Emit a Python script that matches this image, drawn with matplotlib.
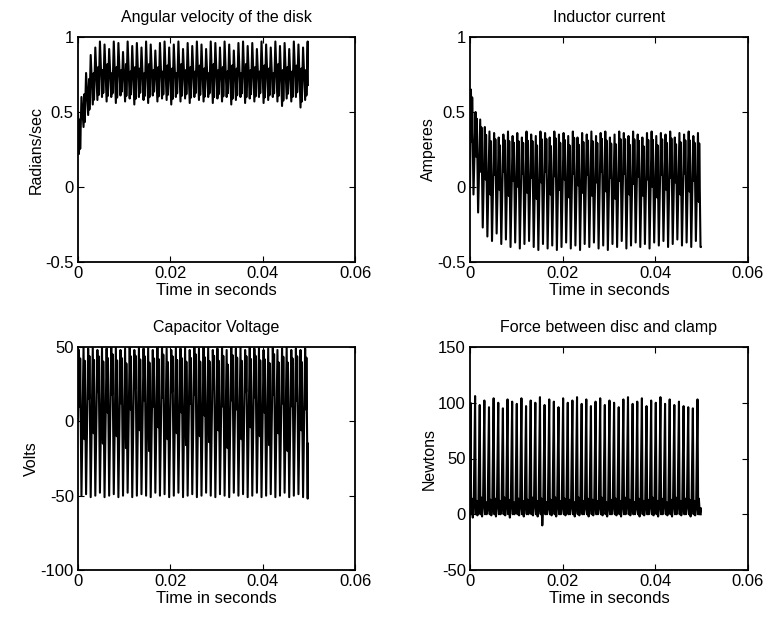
import numpy as np
import matplotlib
matplotlib.use("Agg")
import matplotlib.pyplot as plt

plt.rcParams['font.family'] = ['Liberation Sans', 'DejaVu Sans']

# cycle start times (s), one per oscillation cycle
cycle_t = [0.000, 0.001, 0.002, 0.003, 0.004, 0.005, 0.006, 0.007, 0.008, 0.009,
           0.010, 0.011, 0.012, 0.013, 0.014, 0.015, 0.016, 0.017, 0.018, 0.019,
           0.020, 0.021, 0.022, 0.023, 0.024, 0.025, 0.026, 0.027, 0.028, 0.029,
           0.030, 0.031, 0.032, 0.033, 0.034, 0.035, 0.036, 0.037, 0.038, 0.039,
           0.040, 0.041, 0.042, 0.043, 0.044, 0.045, 0.046, 0.047, 0.048, 0.049]
t_end = 0.0498

# Angular velocity of the disk (rad/s)
omega_start, omega_end = 0.50, 0.68
omega_trough = [0.22, 0.40, 0.48, 0.55, 0.58, 0.60, 0.57, 0.60, 0.56, 0.61,
                0.57, 0.59, 0.55, 0.60, 0.58, 0.56, 0.61, 0.57, 0.59, 0.58,
                0.55, 0.60, 0.57, 0.59, 0.56, 0.60, 0.58, 0.57, 0.60, 0.56,
                0.59, 0.57, 0.60, 0.55, 0.58, 0.60, 0.56, 0.59, 0.57, 0.60,
                0.56, 0.58, 0.60, 0.57, 0.54, 0.59, 0.57, 0.60, 0.53, 0.58]
omega_peak = [0.60, 0.76, 0.88, 0.93, 0.97, 0.95, 0.92, 0.97, 0.96, 0.90,
              0.97, 0.94, 0.96, 0.93, 0.97, 0.95, 0.91, 0.96, 0.97, 0.93,
              0.95, 0.97, 0.92, 0.96, 0.94, 0.97, 0.95, 0.92, 0.97, 0.96,
              0.93, 0.97, 0.95, 0.91, 0.96, 0.97, 0.94, 0.96, 0.92, 0.97,
              0.95, 0.93, 0.97, 0.94, 0.96, 0.92, 0.97, 0.95, 0.93, 0.97]
omega_mid = [0.45, 0.62, 0.72, 0.76, 0.80, 0.78, 0.82, 0.76, 0.80, 0.78,
             0.82, 0.77, 0.80, 0.79, 0.76, 0.82, 0.78, 0.80, 0.77, 0.81,
             0.79, 0.76, 0.82, 0.78, 0.80, 0.77, 0.81, 0.79, 0.76, 0.82,
             0.78, 0.80, 0.77, 0.81, 0.79, 0.76, 0.82, 0.78, 0.80, 0.77,
             0.81, 0.79, 0.76, 0.82, 0.78, 0.80, 0.77, 0.81, 0.79, 0.78]

# Inductor current (A)
cur_start, cur_end = 0.0, -0.40
cur_peak = [0.65, 0.50, 0.45, 0.40, 0.37, 0.36, 0.33, 0.35, 0.37, 0.34,
            0.36, 0.33, 0.37, 0.35, 0.34, 0.37, 0.36, 0.33, 0.37, 0.35,
            0.36, 0.34, 0.37, 0.33, 0.36, 0.35, 0.37, 0.34, 0.36, 0.37,
            0.33, 0.35, 0.37, 0.36, 0.34, 0.37, 0.35, 0.33, 0.36, 0.37,
            0.34, 0.36, 0.35, 0.37, 0.33, 0.36, 0.35, 0.37, 0.34, 0.36]
cur_trough = [-0.05, -0.17, -0.27, -0.33, -0.36, -0.31, -0.38, -0.35, -0.40, -0.37,
              -0.41, -0.38, -0.36, -0.40, -0.42, -0.38, -0.41, -0.39, -0.42, -0.40,
              -0.37, -0.41, -0.39, -0.42, -0.38, -0.40, -0.37, -0.41, -0.39, -0.42,
              -0.38, -0.40, -0.36, -0.41, -0.39, -0.37, -0.40, -0.38, -0.41, -0.37,
              -0.39, -0.36, -0.40, -0.38, -0.35, -0.39, -0.37, -0.40, -0.36, -0.40]
cur_mid = [0.30, 0.20, 0.10, 0.05, -0.05, 0.08, -0.02, 0.10, -0.06, 0.04,
           0.00, 0.09, -0.04, 0.06, -0.08, 0.03, 0.10, -0.05, 0.07, -0.02,
           0.05, -0.07, 0.09, 0.01, -0.04, 0.08, -0.06, 0.03, 0.10, -0.03,
           0.06, -0.08, 0.04, 0.09, -0.05, 0.02, 0.07, -0.06, 0.05, 0.00,
           -0.07, 0.08, -0.02, 0.06, 0.03, -0.05, 0.09, -0.03, 0.04, -0.10]

# Capacitor voltage (V)
volt_start, volt_end = 0.0, -15.0
volt_peak = [48, 50, 49, 50, 48, 50, 49, 50, 50, 48,
             49, 50, 48, 50, 49, 50, 48, 50, 50, 49,
             48, 50, 49, 50, 48, 50, 49, 50, 50, 48,
             49, 50, 48, 50, 49, 50, 48, 50, 49, 50,
             48, 49, 50, 48, 49, 50, 48, 49, 48, 49]
volt_trough = [-50, -49, -51, -50, -48, -51, -50, -49, -51, -50,
               -48, -51, -50, -49, -50, -51, -48, -50, -49, -51,
               -50, -48, -51, -50, -49, -51, -50, -48, -50, -51,
               -49, -50, -51, -48, -50, -49, -51, -50, -48, -51,
               -50, -49, -51, -50, -48, -51, -50, -49, -51, -52]
volt_mid = [10, -12, 15, -8, 20, -15, 6, 18, -10, 12,
            -18, 8, 22, -6, 14, -20, 10, -4, 16, -12,
            20, -8, 6, -16, 12, 18, -10, 4, -14, 22,
            -6, 10, -18, 14, 8, -12, 20, -4, 16, -10,
            6, -16, 18, -8, 12, -20, 10, 14, -6, 8]

# Force between disc and clamp (N)
force_peak = [100, 106, 98, 102, 96, 104, 100, 95, 103, 101,
              99, 104, 97, 102, 100, 105, 98, 103, 101, 96,
              104, 100, 102, 105, 99, 103, 97, 101, 104, 98,
              102, 100, 96, 103, 105, 99, 101, 104, 97, 102,
              100, 105, 99, 103, 98, 101, 97, 96, 95, 103]
force_bump = [14, 12, 15, 11, 13, 14, 12, 15, 13, 11,
              14, 12, 13, 15, 12, 14, 11, 13, 15, 12,
              14, 13, 11, 15, 12, 14, 13, 12, 15, 11,
              13, 14, 12, 15, 13, 11, 14, 12, 13, 15,
              12, 14, 11, 13, 15, 12, 14, 13, 12, 14]
force_dip = [-3, -1, -2, 0, -1, -2, 0, -1, -3, 0,
             -1, -2, 0, -1, -2, -10, 0, -1, -2, 0,
             -1, 0, -2, -1, 0, -2, -1, 0, -1, -2,
             0, -1, -2, 0, -1, 0, -2, -1, 0, -1,
             -2, 0, -1, -2, 0, -1, 0, -2, -1, 0]

T = 0.001


def wave(start, first, mid, second, end):
    ts, vs = [0.0], [start]
    for t0, a, m, b in zip(cycle_t, first, mid, second):
        ts += [t0 + 0.20 * T, t0 + 0.40 * T, t0 + 0.47 * T, t0 + 0.75 * T]
        vs += [a, m, a * 0.85 + m * 0.15, b]
    ts.append(t_end)
    vs.append(end)
    return ts, vs


def force_wave():
    ts, vs = [0.0], [0.0]
    for t0, p, bmp, d in zip(cycle_t, force_peak, force_bump, force_dip):
        ts += [t0 + 0.10 * T, t0 + 0.25 * T, t0 + 0.40 * T, t0 + 0.60 * T, t0 + 0.80 * T]
        vs += [p, 0, bmp, d, bmp * 0.4]
    ts.append(t_end)
    vs.append(0)
    return ts, vs


fig = plt.figure(figsize=(7.67, 6.2), dpi=100)
L1, R1 = 78 / 767, 355 / 767
L2, R2 = 470 / 767, 748 / 767
T1, B1 = 1 - 37 / 620, 1 - 262 / 620
T2, B2 = 1 - 347 / 620, 1 - 570 / 620

axs = [fig.add_axes([L1, B1, R1 - L1, T1 - B1]),
       fig.add_axes([L2, B1, R2 - L2, T1 - B1]),
       fig.add_axes([L1, B2, R1 - L1, T2 - B2]),
       fig.add_axes([L2, B2, R2 - L2, T2 - B2])]

series = [wave(omega_start, omega_trough, omega_mid, omega_peak, omega_end),
          wave(cur_start, cur_peak, cur_mid, cur_trough, cur_end),
          wave(volt_start, volt_peak, volt_mid, volt_trough, volt_end),
          force_wave()]
titles = ["Angular velocity of the disk", "Inductor current",
          "Capacitor Voltage", "Force between disc and clamp"]
ylabels = ["Radians/sec", "Amperes", "Volts", "Newtons"]
ylims = [(-0.5, 1), (-0.5, 1), (-100, 50), (-50, 150)]
yticks = [[-0.5, 0, 0.5, 1], [-0.5, 0, 0.5, 1], [-100, -50, 0, 50], [-50, 0, 50, 100, 150]]
ytl = [["-0.5", "0", "0.5", "1"], ["-0.5", "0", "0.5", "1"],
       ["-100", "-50", "0", "50"], ["-50", "0", "50", "100", "150"]]

for ax, (ts, vs), ti, yl, lim, yt, ytlab in zip(axs, series, titles, ylabels, ylims, yticks, ytl):
    ax.plot(ts, vs, color='black', lw=1.5)
    ax.set_xlim(0, 0.06)
    ax.set_ylim(*lim)
    ax.set_xticks([0, 0.02, 0.04, 0.06])
    ax.set_xticklabels(["0", "0.02", "0.04", "0.06"])
    ax.set_yticks(yt)
    ax.set_yticklabels(ytlab)
    ax.tick_params(direction='in', top=True, right=True, labelsize=12, length=4, width=0.8, pad=3)
    ax.set_title(ti, fontsize=11.5, pad=11)
    ax.set_xlabel("Time in seconds", fontsize=12, labelpad=1)
    ax.set_ylabel(yl, fontsize=11.5, labelpad=1)
    for s in ax.spines.values():
        s.set_linewidth(1.3)

fig.savefig("out.png", dpi=100)
